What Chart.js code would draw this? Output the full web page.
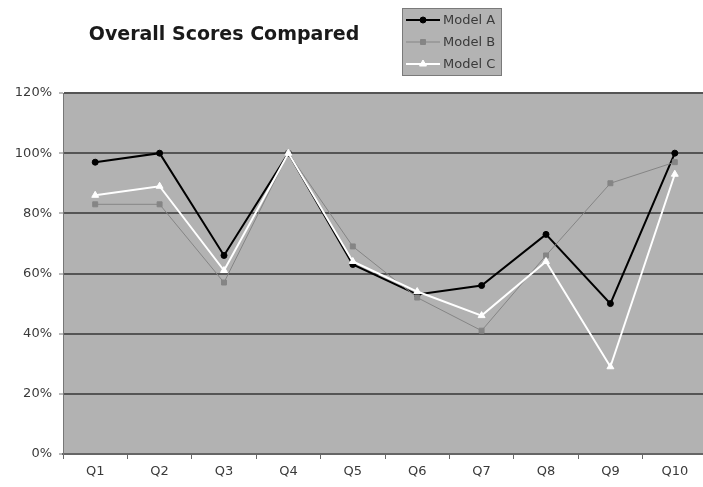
<!DOCTYPE html>
<html>
<head>
<meta charset="utf-8">
<script src="https://cdn.jsdelivr.net/npm/chart.js@4/dist/chart.umd.min.js"></script>
<style>
  html, body { margin: 0; padding: 0; background: #fff; overflow: hidden; }
  #wrap { width: 712px; height: 487px; }
</style>
</head>
<body>
<div id="wrap"><canvas id="c" width="712" height="487"></canvas></div>
<script>
// Question categories and per-model scores (percent)
const categories = ['Q1', 'Q2', 'Q3', 'Q4', 'Q5', 'Q6', 'Q7', 'Q8', 'Q9', 'Q10'];
const modelA = [97, 100, 66, 100, 63, 53, 56, 73, 50, 100];
const modelB = [83, 83, 57, 100, 69, 52, 41, 66, 90, 97];
const modelC = [86, 89, 61, 100, 64, 54, 46, 64, 29, 93];
const yTicks = [0, 20, 40, 60, 80, 100, 120];
const chartTitle = 'Overall Scores Compared';

const FONT = '"DejaVu Sans", Verdana, sans-serif';

// Title and boxed legend drawn on the canvas above the plot
const decorPlugin = {
  id: 'decor',
  afterDraw(chart) {
    const ctx = chart.ctx;
    ctx.save();
    ctx.fillStyle = '#1a1a1a';
    ctx.font = 'bold 19px ' + FONT;
    ctx.textAlign = 'center';
    ctx.textBaseline = 'middle';
    ctx.fillText(chartTitle, 224, 35);

    // legend box
    const bx = 402, by = 8, bw = 100, bh = 68;
    ctx.fillStyle = '#b3b3b3';
    ctx.fillRect(bx, by, bw, bh);
    ctx.strokeStyle = '#7a7a7a';
    ctx.lineWidth = 1;
    ctx.strokeRect(bx + 0.5, by + 0.5, bw - 1, bh - 1);

    chart.data.datasets.forEach((ds, i) => {
      const y = by + 12 + i * 22;
      ctx.strokeStyle = ds.borderColor;
      ctx.lineWidth = ds.borderWidth;
      ctx.beginPath();
      ctx.moveTo(bx + 4, y);
      ctx.lineTo(bx + 38, y);
      ctx.stroke();
      ctx.fillStyle = ds.pointBackgroundColor;
      ctx.strokeStyle = ds.pointBorderColor;
      ctx.lineWidth = 1;
      Chart.helpers.drawPoint(ctx, {
        pointStyle: ds.pointStyle,
        radius: ds.pointRadius,
        rotation: 0,
        borderWidth: 1
      }, bx + 21, y);
      ctx.fillStyle = '#3a3a3a';
      ctx.font = '13px ' + FONT;
      ctx.textAlign = 'left';
      ctx.textBaseline = 'middle';
      ctx.fillText(ds.label, bx + 41, y + 1);
    });
    ctx.restore();
  }
};

// Grey plot area background
const plotBg = {
  id: 'plotBg',
  beforeDraw(chart) {
    const a = chart.chartArea;
    const ctx = chart.ctx;
    ctx.save();
    ctx.fillStyle = '#b2b2b2';
    ctx.fillRect(a.left, a.top, a.right - a.left, a.bottom - a.top);
    ctx.restore();
  }
};

function series(label, data, color, width, style, radius, order) {
  return {
    label, data,
    borderColor: color,
    backgroundColor: color,
    borderWidth: width,
    pointStyle: style,
    pointRadius: radius,
    pointHoverRadius: radius,
    pointBorderColor: color,
    pointBackgroundColor: color,
    pointBorderWidth: 1,
    tension: 0,
    order
  };
}

new Chart(document.getElementById('c'), {
  type: 'line',
  data: {
    labels: categories,
    datasets: [
      series('Model A', modelA, '#000000', 2, 'circle', 3, 2),
      series('Model B', modelB, '#858585', 1, 'rect', 3.5, 1),
      series('Model C', modelC, '#ffffff', 2, 'triangle', 4, 0)
    ]
  },
  options: {
    responsive: false,
    animation: false,
    events: [],
    layout: { padding: { top: 93, left: 0, right: 4, bottom: 0 } },
    plugins: {
      legend: { display: false },
      title: { display: false },
      tooltip: { enabled: false }
    },
    scales: {
      x: {
        offset: true,
        grid: {
          offset: true,
          drawOnChartArea: false,
          drawTicks: true,
          tickLength: 5,
          color: '#666666',
          lineWidth: 1
        },
        border: { color: '#666666', width: 2 },
        ticks: {
          color: '#3a3a3a',
          font: { family: FONT, size: 13 },
          padding: 5,
          maxRotation: 0
        },
        afterFit(scale) { scale.height = 33; }
      },
      y: {
        min: 0,
        max: 120,
        afterBuildTicks(scale) {
          scale.ticks = yTicks.map(v => ({ value: v }));
        },
        grid: {
          color: '#555555',
          lineWidth: 2,
          drawTicks: true,
          tickLength: 4,
          tickColor: '#777777',
          tickWidth: 1
        },
        border: { color: '#777777', width: 1 },
        ticks: {
          color: '#3a3a3a',
          font: { family: FONT, size: 13 },
          padding: 7,
          callback: v => v + '%'
        },
        afterFit(scale) { scale.width = 63; }
      }
    }
  },
  plugins: [plotBg, decorPlugin]
});
</script>
</body>
</html>
